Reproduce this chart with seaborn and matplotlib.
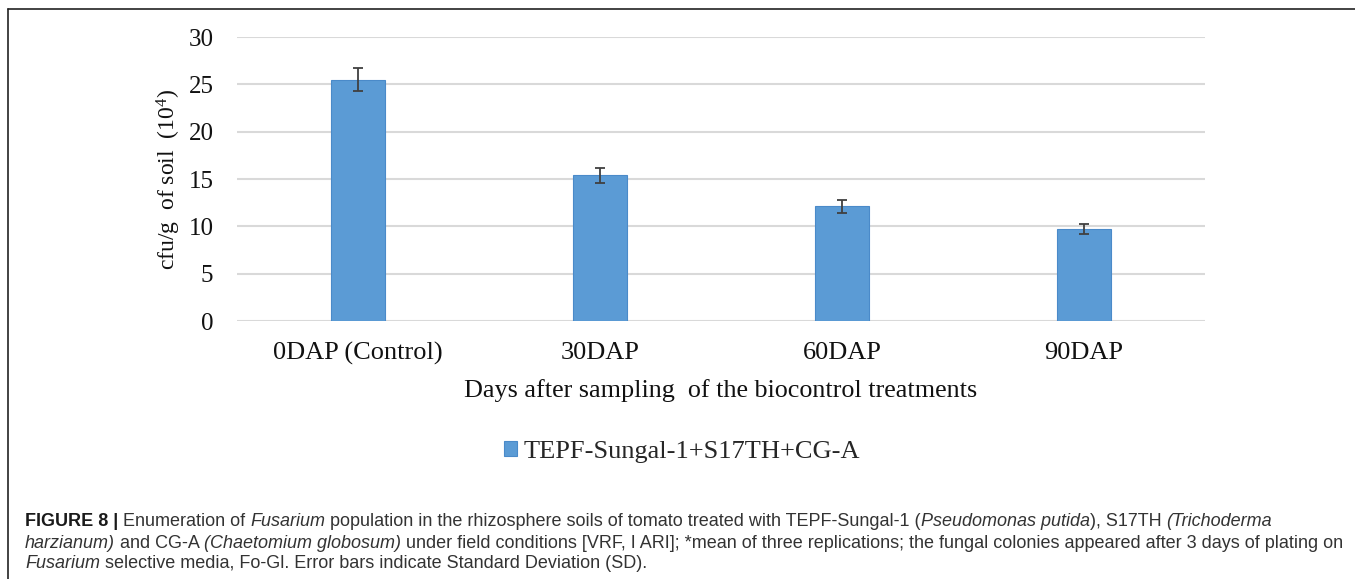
import matplotlib
matplotlib.use("Agg")
import matplotlib.pyplot as plt
import seaborn as sns
import pandas as pd
from matplotlib.lines import Line2D

# ---- data ----
categories = ["0DAP (Control)", "30DAP", "60DAP", "90DAP"]
cfu_values = [25.5, 15.4, 12.1, 9.7]
cfu_sd = [1.2, 0.8, 0.65, 0.55]
series_name = "TEPF-Sungal-1+S17TH+CG-A"
y_ticks = [0, 5, 10, 15, 20, 25, 30]

df = pd.DataFrame({"day": categories, "cfu": cfu_values, "sd": cfu_sd})

sns.set_style("white")
plt.rcParams["font.family"] = ["Liberation Serif", "DejaVu Serif"]
plt.rcParams["mathtext.fontset"] = "custom"
plt.rcParams["mathtext.rm"] = "Liberation Serif"
plt.rcParams["mathtext.it"] = "Liberation Serif:italic"

W, H = 1355, 579
fig = plt.figure(figsize=(W / 100, H / 100), dpi=100)
ax = fig.add_axes([237 / W, 1 - 321 / H, 968 / W, 284 / H])

bar_color = "#5B9BD5"
sns.barplot(data=df, x="day", y="cfu", ax=ax, color=bar_color, width=0.225,
            errorbar=None, edgecolor="#4A8AC9", linewidth=0.8, saturation=1,
            label=series_name, zorder=3)
ax.errorbar(x=list(range(len(categories))), y=df["cfu"], yerr=df["sd"],
            fmt="none", ecolor="#404040", elinewidth=1.3, capsize=3.6,
            capthick=1.3, zorder=4)

ax.set_ylim(0, 30)
ax.set_xlim(-0.5, len(categories) - 0.5)
ax.set_yticks(y_ticks)
ax.yaxis.grid(True, color="#d9d9d9", linewidth=1.5, zorder=0)
ax.set_axisbelow(True)
for s in ax.spines.values():
    s.set_visible(False)
ax.tick_params(axis="both", length=0)
ax.tick_params(axis="y", labelsize=18, pad=17)
ax.tick_params(axis="x", labelsize=19, pad=15)
for lbl in ax.get_xticklabels() + ax.get_yticklabels():
    lbl.set_color("#111111")

ax.set_xlabel("Days after sampling  of the biocontrol treatments", fontsize=18.8,
              color="#111111", labelpad=10)
ax.set_ylabel("cfu/g  of soil  (10$^{4}$)", fontsize=17, color="#111111", labelpad=4)

ax.legend(loc="center", bbox_to_anchor=(682 / W, 1 - 452 / H),
          bbox_transform=fig.transFigure, frameon=False, fontsize=19,
          handlelength=0.5, handleheight=0.5, handletextpad=0.25)

# ---- frame lines ----
fig.add_artist(Line2D([8 / W, 8 / W], [0, 1 - 9 / H], transform=fig.transFigure,
                      color="#222222", linewidth=1.2))
fig.add_artist(Line2D([8 / W, 1], [1 - 9 / H, 1 - 9 / H], transform=fig.transFigure,
                      color="#222222", linewidth=1.2))

# ---- caption ----
cap_lines = [
    [("FIGURE 8 | ", "bold"), ("Enumeration of ", "normal"), ("Fusarium", "italic"),
     (" population in the rhizosphere soils of tomato treated with TEPF-Sungal-1 (", "normal"),
     ("Pseudomonas putida", "italic"), ("), S17TH ", "normal"), ("(Trichoderma", "italic")],
    [("harzianum)", "italic"), (" and CG-A ", "normal"), ("(Chaetomium globosum)", "italic"),
     (" under field conditions [VRF, I ARI]; *mean of three replications; the fungal colonies appeared after 3 days of plating on", "normal")],
    [("Fusarium", "italic"),
     (" selective media, Fo-Gl. Error bars indicate Standard Deviation (SD).", "normal")],
]
cap_y = [522, 543, 564]
cap_size = 13
fig.canvas.draw()
renderer = fig.canvas.get_renderer()
for line, yy in zip(cap_lines, cap_y):
    x = 25
    for txt, style in line:
        kw = dict(fontsize=cap_size, family=["Liberation Sans", "DejaVu Sans"],
                  va="center", ha="left", color="#333333")
        if style == "bold":
            kw["fontweight"] = "bold"
            kw["color"] = "#1a1a1a"
        elif style == "italic":
            kw["fontstyle"] = "italic"
        t = fig.text(x / W, 1 - yy / H, txt, **kw)
        bb = t.get_window_extent(renderer)
        x = bb.x1

fig.savefig("out.png", dpi=100)
